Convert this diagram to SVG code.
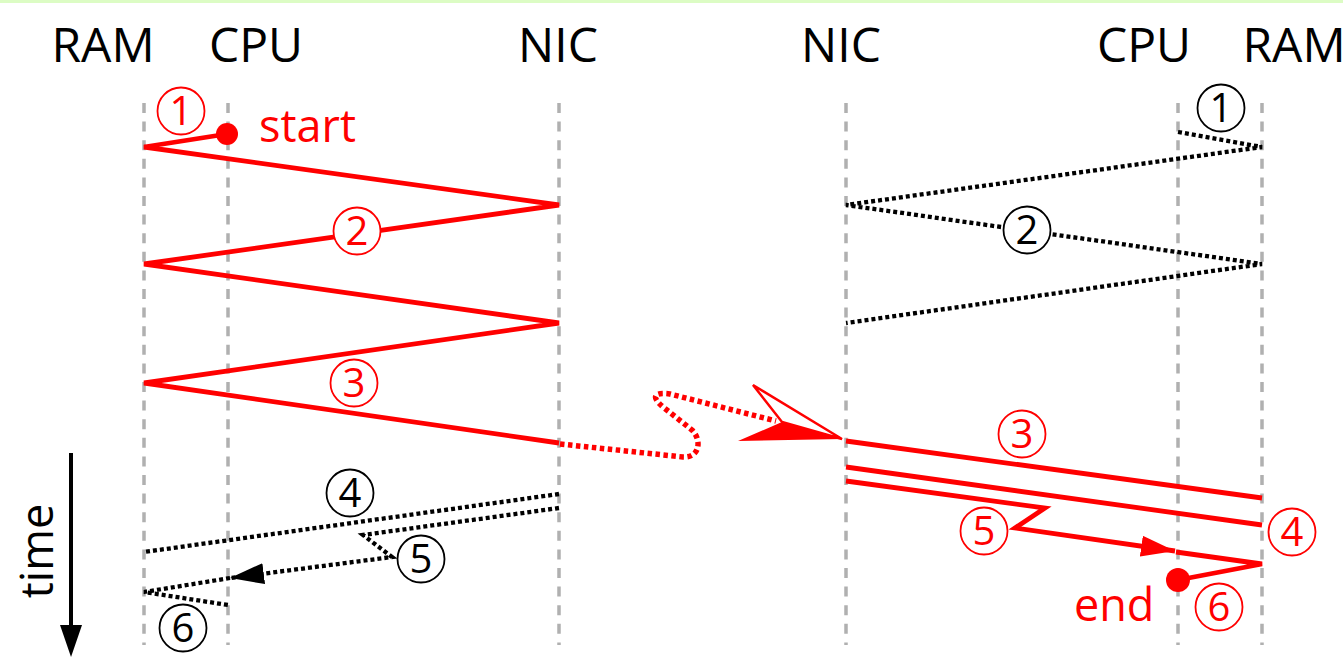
<svg xmlns="http://www.w3.org/2000/svg" width="1343" height="658" viewBox="0 0 1343 658">
  <style>
    .hdr { font-family: "Open Sans", "Liberation Sans", sans-serif; font-size: 48px; fill: #000; text-anchor: middle; }
    .lbl { font-family: "Open Sans", "Liberation Sans", sans-serif; font-size: 45px; }
    .life { stroke: #b0b0b0; stroke-width: 3.5; stroke-dasharray: 10 8.6; fill: none; }
    .red { stroke: #ff0000; stroke-width: 4.8; fill: none; stroke-linejoin: miter; }
    .dot { stroke: #000; stroke-width: 4.3; stroke-dasharray: 4 3; fill: none; }
    .wavy { stroke: #ff0000; stroke-width: 5.5; stroke-dasharray: 4.5 3.5; fill: none; }
    .num circle { fill: #fff; stroke-width: 1.8; }
    .num text { font-family: "Open Sans", "Liberation Sans", sans-serif; font-size: 40px; text-anchor: middle; }
    .num.r circle { stroke: #ff0000; }
    .num.r text { fill: #ff0000; }
    .num.k circle { stroke: #000; }
    .num.k text { fill: #000; }
  </style>
  <defs>
    <marker id="headK" viewBox="0 0 34 21" refX="34" refY="10.5" markerWidth="34" markerHeight="21" markerUnits="userSpaceOnUse" orient="auto">
      <path d="M0,0 L34,10.5 L0,21 z" fill="#000"/>
    </marker>
    <marker id="headR" viewBox="0 0 34 21" refX="34" refY="10.5" markerWidth="34" markerHeight="21" markerUnits="userSpaceOnUse" orient="auto">
      <path d="M0,0 L34,10.5 L0,21 z" fill="#ff0000"/>
    </marker>
  </defs>

  <rect x="0" y="0" width="1343" height="658" fill="#fff"/>
  <rect x="0" y="0" width="1343" height="3" fill="#dcfcc4"/>

  <!-- lifelines -->
  <g id="lifelines">
    <g id="ram-left"><text class="hdr" x="103" y="62">RAM</text><line class="life" x1="144" y1="103" x2="144" y2="645"/></g>
    <g id="cpu-left"><text class="hdr" x="256" y="62">CPU</text><line class="life" x1="228" y1="103" x2="228" y2="645"/></g>
    <g id="nic-left"><text class="hdr" x="558" y="62">NIC</text><line class="life" x1="559" y1="103" x2="559" y2="645"/></g>
    <g id="nic-right"><text class="hdr" x="841" y="62">NIC</text><line class="life" x1="846" y1="103" x2="846" y2="645"/></g>
    <g id="cpu-right"><text class="hdr" x="1144" y="62">CPU</text><line class="life" x1="1178" y1="103" x2="1178" y2="645"/></g>
    <g id="ram-right"><text class="hdr" x="1294" y="62">RAM</text><line class="life" x1="1262" y1="103" x2="1262" y2="645"/></g>
  </g>

  <!-- message flows -->
  <g id="connectors">
    <!-- sender: descriptor fetch and payload reads -->
    <polyline class="red" points="227,134 144,147 559,205 144,264 559,323 144,383 559,443"/>
    <!-- wire transfer -->
    <path class="wavy" d="M560,444 L683,457 C700,458 702,440 692,430 L663,407 C650,396 655,392 670,394 L776,421"/>
    <path d="M842,439 L753,385 L782,422 z" fill="#fff" stroke="#ff0000" stroke-width="2.5" stroke-linejoin="miter"/>
    <path d="M842,439 L782,422 L738,441 z" fill="#ff0000"/>
    <!-- receiver: ring setup (idle) -->
    <polyline class="dot" points="1178,132 1262,147 846,205 1262,264 846,323"/>
    <!-- receiver: payload write, completion, interrupt -->
    <line class="red" x1="846" y1="441" x2="1262" y2="498"/>
    <line class="red" x1="846" y1="467" x2="1262" y2="525"/>
    <polyline class="red" points="846,481 1045,508 1015,528 1175,551" marker-end="url(#headR)"/>
    <polyline class="red" points="1176,552 1262,564 1178,580"/>
    <!-- sender: completion (idle) -->
    <line class="dot" x1="559" y1="494" x2="144" y2="552"/>
    <polyline class="dot" points="559,508 363,535 392,557 230,578" marker-end="url(#headK)"/>
    <polyline class="dot" points="230,578 144,592 228,605"/>
  </g>

  <g id="start"><circle cx="227" cy="134" r="11" fill="#ff0000"/><text class="lbl" x="259" y="142" fill="#ff0000">start</text></g>
  <g id="end"><circle cx="1178" cy="580" r="12" fill="#ff0000"/><text class="lbl" x="1074" y="621" fill="#ff0000">end</text></g>

  <!-- step numbers -->
  <g id="s1-tx" class="num r"><circle cx="181" cy="111" r="23.5"/><text x="181" y="125">1</text></g>
  <g id="s2-tx" class="num r"><circle cx="357" cy="231" r="23.5"/><text x="357" y="245">2</text></g>
  <g id="s3-tx" class="num r"><circle cx="354" cy="383" r="23.5"/><text x="354" y="397">3</text></g>
  <g id="s4-tx" class="num k"><circle cx="350" cy="493" r="23.5"/><text x="350" y="507">4</text></g>
  <g id="s5-tx" class="num k"><circle cx="421" cy="559" r="23.5"/><text x="421" y="573">5</text></g>
  <g id="s6-tx" class="num k"><circle cx="183" cy="628" r="23.5"/><text x="183" y="642">6</text></g>
  <g id="s1-rx" class="num k"><circle cx="1221" cy="108" r="23.5"/><text x="1221" y="122">1</text></g>
  <g id="s2-rx" class="num k"><circle cx="1027" cy="230" r="23.5"/><text x="1027" y="244">2</text></g>
  <g id="s3-rx" class="num r"><circle cx="1022" cy="434" r="23.5"/><text x="1022" y="448">3</text></g>
  <g id="s4-rx" class="num r"><circle cx="1292" cy="532" r="23.5"/><text x="1292" y="546">4</text></g>
  <g id="s5-rx" class="num r"><circle cx="984" cy="531" r="23.5"/><text x="984" y="545">5</text></g>
  <g id="s6-rx" class="num r"><circle cx="1219" cy="607" r="23.5"/><text x="1219" y="621">6</text></g>

  <!-- time axis -->
  <g id="time-axis">
    <line x1="71" y1="453" x2="71" y2="627" stroke="#000" stroke-width="4"/>
    <path d="M60,625 L82,625 L71,657 z" fill="#000"/>
    <text class="lbl" x="53" y="551" fill="#000" text-anchor="middle" transform="rotate(-90 53 551)">time</text>
  </g>
</svg>
